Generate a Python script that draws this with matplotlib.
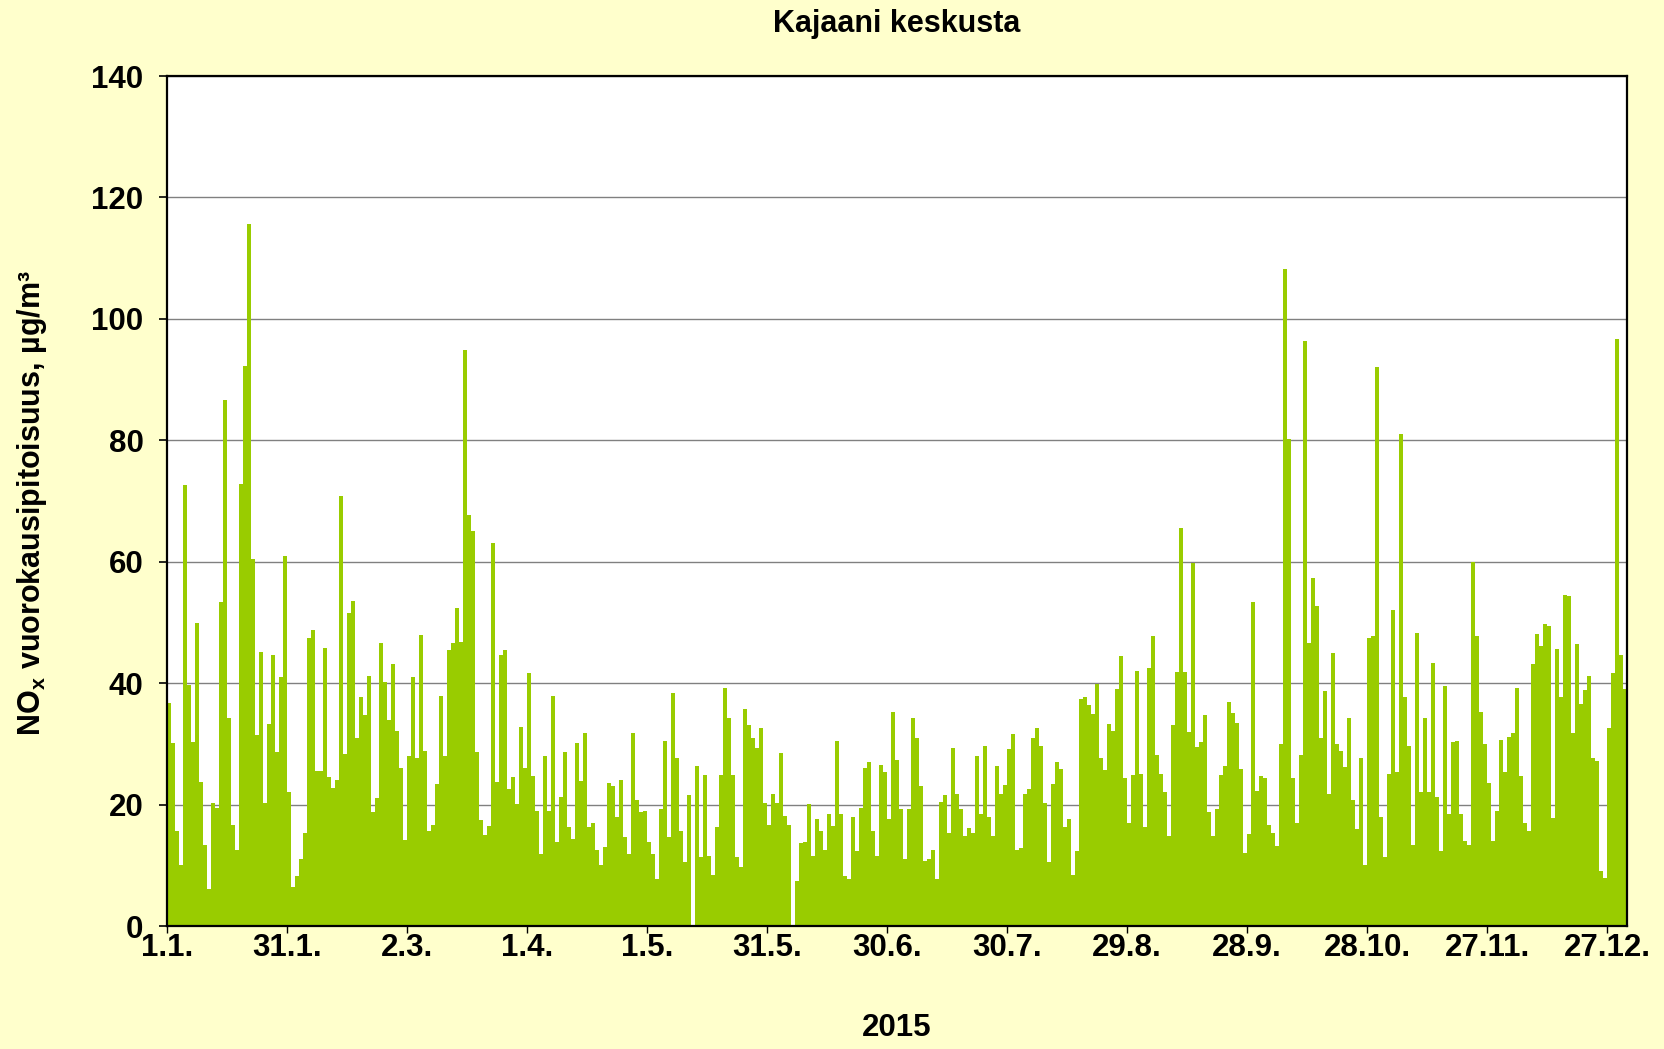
import numpy as np
import matplotlib
matplotlib.use('Agg')
import matplotlib.pyplot as plt

plt.rcParams['font.family'] = ['Liberation Sans', 'DejaVu Sans']
plt.rcParams['font.weight'] = 'bold'
plt.rcParams['mathtext.fontset'] = 'custom'
plt.rcParams['mathtext.bf'] = 'Liberation Sans:bold'
plt.rcParams['mathtext.rm'] = 'Liberation Sans:bold'

# Daily NOx means, 1.1.2015 - 31.12.2015 (ug/m3)
nox_jan = [36.8, 30.1, 15.6, 10.0, 72.6, 39.7, 30.3, 49.9, 23.8, 13.3, 6.1, 20.3, 19.4, 53.4, 86.6, 34.3,
           16.6, 12.5, 72.8, 92.2, 115.7, 60.5, 31.4, 45.1, 20.2, 33.2, 44.7, 28.7, 41.0, 61.0, 22.0]
nox_feb = [6.5, 8.3, 11.1, 15.3, 47.5, 48.7, 25.5, 25.5, 45.8, 24.5, 22.8, 24.1, 70.9, 28.4, 51.6, 53.5,
           30.9, 37.7, 34.7, 41.2, 18.8, 21.1, 46.6, 40.2, 33.9, 43.1, 32.2, 26.1]
nox_mar = [14.2, 28.0, 41.0, 27.6, 47.9, 28.9, 15.7, 16.6, 23.4, 37.9, 28.0, 45.4, 46.6, 52.3, 46.7, 94.8,
           67.7, 65.1, 28.7, 17.4, 15.0, 16.5, 63.1, 23.8, 44.6, 45.4, 22.6, 24.5, 20.1, 32.7, 26.0]
nox_apr = [41.6, 24.7, 18.9, 11.9, 28.0, 18.9, 37.9, 13.8, 21.2, 28.7, 16.3, 14.4, 30.1, 23.9, 31.8, 16.3,
           16.9, 12.6, 10.1, 13.0, 23.5, 23.1, 18.0, 24.0, 14.7, 11.9, 31.8, 20.7, 18.8, 18.9]
nox_may = [13.9, 11.9, 7.7, 19.3, 30.4, 14.7, 38.3, 27.6, 15.7, 10.5, 21.5, 0.0, 26.4, 11.3, 24.9, 11.6,
           8.4, 16.3, 24.9, 39.2, 34.3, 24.8, 11.3, 9.7, 35.8, 33.1, 30.9, 29.3, 32.6, 20.2, 16.6]
nox_jun = [21.8, 20.3, 28.5, 18.2, 16.6, 0.0, 7.4, 13.6, 13.8, 20.1, 11.6, 17.6, 15.6, 12.6, 18.4, 16.5,
           30.4, 18.4, 8.2, 7.8, 18.0, 12.3, 19.4, 26.1, 27.0, 15.6, 11.6, 26.6, 25.4, 17.6]
nox_jul = [35.2, 27.4, 19.3, 11.1, 19.2, 34.3, 30.9, 23.0, 10.7, 11.0, 12.6, 7.7, 20.5, 21.5, 15.3, 29.3,
           21.8, 19.2, 14.9, 16.1, 15.3, 28.0, 18.4, 29.7, 18.0, 14.9, 26.4, 21.8, 23.2, 29.1, 31.6]
nox_aug = [12.6, 12.9, 21.8, 22.6, 30.9, 32.6, 29.7, 20.3, 10.5, 23.4, 27.0, 25.9, 16.3, 17.6, 8.4, 12.3,
           37.4, 37.8, 36.4, 34.9, 39.8, 27.6, 25.7, 33.2, 32.2, 39.1, 44.4, 24.4, 16.9, 24.9, 42.0]
nox_sep = [25.1, 16.3, 42.5, 47.7, 28.2, 25.1, 22.1, 14.8, 33.1, 41.9, 65.5, 41.9, 32.0, 59.8, 29.5, 30.3,
           34.7, 18.8, 14.9, 19.2, 24.8, 26.3, 36.9, 35.1, 33.5, 25.8, 12.0, 15.1, 53.4, 22.2]
nox_oct = [24.7, 24.3, 16.7, 15.3, 13.2, 29.9, 108.2, 80.2, 24.4, 16.9, 28.2, 96.3, 46.6, 57.3, 52.7, 30.9,
           38.7, 21.8, 45.0, 29.9, 28.9, 26.2, 34.3, 20.8, 15.9, 27.6, 10.0, 47.5, 47.7, 92.0, 18.0]
nox_nov = [11.3, 25.1, 52.0, 25.4, 81.1, 37.8, 29.7, 13.3, 48.3, 22.0, 34.3, 22.1, 43.3, 21.2, 12.3, 39.5,
           18.4, 30.3, 30.4, 18.5, 14.0, 13.4, 60.0, 47.7, 35.2, 30.0, 23.5, 14.0, 18.9, 30.7]
nox_dec = [25.3, 31.2, 31.8, 39.2, 24.7, 17.0, 15.7, 43.1, 48.1, 46.1, 49.8, 49.4, 17.8, 45.7, 37.7, 54.6,
           54.3, 31.8, 46.4, 36.6, 38.9, 41.1, 27.6, 27.2, 9.0, 7.9, 32.6, 41.6, 96.7, 44.6, 39.1]

nox = nox_jan + nox_feb + nox_mar + nox_apr + nox_may + nox_jun + \
      nox_jul + nox_aug + nox_sep + nox_oct + nox_nov + nox_dec

tickDays   = [0, 30, 60, 90, 120, 150, 180, 210, 240, 270, 300, 330, 360]
tickLabels = ['1.1.', '31.1.', '2.3.', '1.4.', '1.5.', '31.5.', '30.6.', '30.7.',
              '29.8.', '28.9.', '28.10.', '27.11.', '27.12.']
yTicks     = [0, 20, 40, 60, 80, 100, 120, 140]

bgColor  = '#FFFFCC'
barColor = '#99CC00'
fs       = 22.5

fig = plt.figure(figsize=(16.64, 10.49), dpi=100, facecolor=bgColor)
ax = fig.add_axes([167/1664, 1-926/1049, 1460/1664, 850/1049])
ax.set_facecolor('white')

days = np.arange(len(nox))
ax.bar(days, nox, width=1.0, align='edge', color=barColor, edgecolor='none', zorder=2)

ax.set_xlim(0, 365)
ax.set_ylim(0, 140)
ax.set_yticks(yTicks)
ax.set_xticks(tickDays)
ax.set_xticklabels(tickLabels)
ax.grid(axis='y', color='#808080', linewidth=1.0, zorder=1)
ax.set_axisbelow(True)

for s in ax.spines.values():
    s.set_color('black')
    s.set_linewidth(1.6)
    s.set_zorder(3)

ax.tick_params(axis='y', which='both', labelsize=fs, length=6, width=1.2, direction='out', pad=11)
ax.tick_params(axis='x', which='both', labelsize=fs, length=5, width=1.0, direction='out', pad=0)
for lab in ax.get_xticklabels() + ax.get_yticklabels():
    lab.set_fontweight('bold')

fig.text(0.5 * (167 + 1627) / 1664, 1 - 24/1049, 'Kajaani keskusta',
         ha='center', va='center', fontsize=22, fontweight='bold')
fig.text(0.5 * (167 + 1627) / 1664, 1 - 1028/1049, '2015',
         ha='center', va='center', fontsize=fs, fontweight='bold')
fig.text(32/1664, 1 - 503/1049, r'NO$_{\mathbf{x}}$ vuorokausipitoisuus, µg/m³',
         ha='center', va='center', rotation=90, fontsize=22, fontweight='bold')

plt.savefig('out.png', dpi=100, facecolor=bgColor)
plt.close()
